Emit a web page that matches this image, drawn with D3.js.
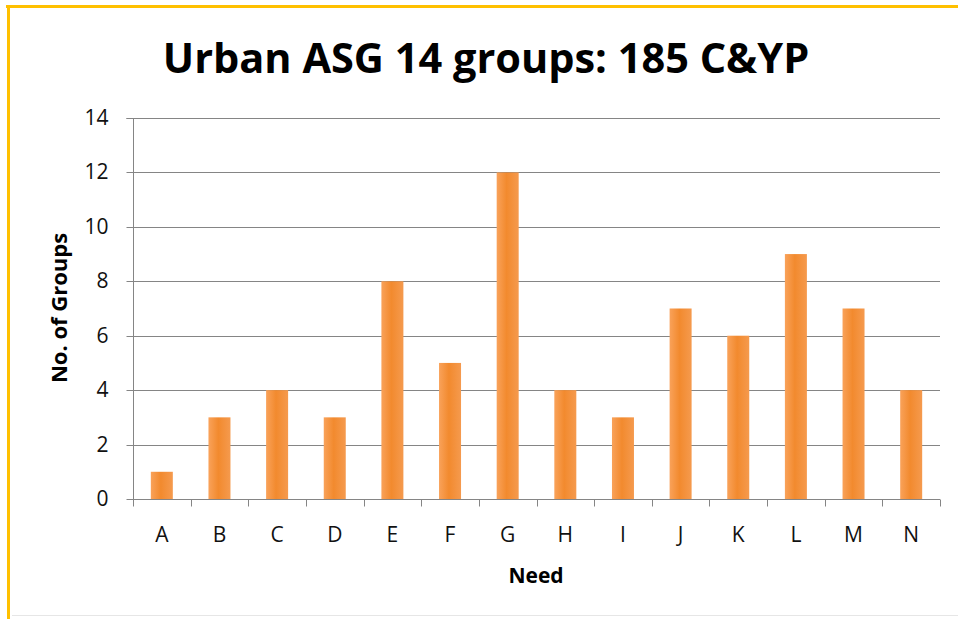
<!DOCTYPE html>
<html><head><meta charset="utf-8">
<script src="https://cdn.jsdelivr.net/npm/d3@7"></script>
<style>body{margin:0;background:#fff;} svg{display:block;}</style>
</head><body>
<script>
const categories = ["A","B","C","D","E","F","G","H","I","J","K","L","M","N"];
const values = [1,3,4,3,8,5,12,4,3,7,6,9,7,4];
const yTicks = [0,2,4,6,8,10,12,14];
const title = "Urban ASG 14 groups: 185 C&YP";
const xLabel = "Need";
const yLabel = "No. of Groups";

(function(){
const W = 958, H = 619;
const svg = d3.select("body").append("svg").attr("width", W).attr("height", H);
svg.append("rect").attr("width", W).attr("height", H).attr("fill", "#fff");

// frame
svg.append("line").attr("x1", 6).attr("x2", W).attr("y1", 6.5).attr("y2", 6.5).attr("stroke", "#FFC000").attr("stroke-width", 3);
svg.append("line").attr("x1", 8.5).attr("x2", 8.5).attr("y1", 5).attr("y2", H).attr("stroke", "#FFC000").attr("stroke-width", 3);
svg.append("line").attr("x1", 12).attr("x2", W).attr("y1", 615.5).attr("y2", 615.5).attr("stroke", "#e6e6e6").attr("stroke-width", 1);

const pl = 133, pr = 940, pt = 118, pb = 499;
const x = d3.scaleBand().domain(categories).range([pl, pr]).paddingInner(0).paddingOuter(0);
const y = d3.scaleLinear().domain([0, 14]).range([pb, pt]);

const defs = svg.append("defs");
const grad = defs.append("linearGradient").attr("id", "bg").attr("x1", "0").attr("x2", "1").attr("y1", "0").attr("y2", "0");
grad.append("stop").attr("offset", "0%").attr("stop-color", "#F9A25A");
grad.append("stop").attr("offset", "45%").attr("stop-color", "#F28A2E");
grad.append("stop").attr("offset", "100%").attr("stop-color", "#F59A4E");

// gridlines
svg.append("g").selectAll("line").data(yTicks.filter(d => d > 0)).join("line")
  .attr("x1", pl).attr("x2", pr)
  .attr("y1", d => Math.round(y(d)) + 0.5).attr("y2", d => Math.round(y(d)) + 0.5)
  .attr("stroke", "#858585").attr("stroke-width", 1);

// bars
const bw = 22;
svg.append("g").selectAll("rect").data(values).join("rect")
  .attr("x", (d, i) => x(categories[i]) + x.bandwidth() / 2 - bw / 2)
  .attr("y", d => y(d))
  .attr("width", bw)
  .attr("height", d => y(0) - y(d))
  .attr("fill", "url(#bg)");

// y axis
const yAxis = svg.append("g").attr("transform", `translate(${pl + 0.5},0)`)
  .call(d3.axisLeft(y).tickValues(yTicks).tickSize(7).tickPadding(18));
yAxis.select(".domain").attr("stroke", "#858585").attr("d", `M-7,${Math.round(y(14))+0.5}H0V${pb}`);
yAxis.selectAll(".tick line").attr("stroke", "#858585");
yAxis.selectAll(".tick text").attr("font-family", "Open Sans, sans-serif").attr("font-size", 21).attr("fill", "#111");
yAxis.selectAll(".tick").attr("transform", d => `translate(0,${Math.round(y(d)) + 0.5})`);

// x axis
const xa = svg.append("g").attr("transform", `translate(0,${pb + 0.5})`);
xa.append("line").attr("x1", pl).attr("x2", pr).attr("stroke", "#858585");
const bounds = categories.map(c => x(c)).concat([pr]);
xa.selectAll("line.tk").data(bounds).join("line").attr("class", "tk")
  .attr("x1", d => Math.round(d) + 0.5).attr("x2", d => Math.round(d) + 0.5)
  .attr("y1", 0).attr("y2", 7).attr("stroke", "#858585");
xa.selectAll("text").data(categories).join("text")
  .attr("x", d => x(d) + x.bandwidth() / 2).attr("y", 42.5)
  .attr("text-anchor", "middle")
  .attr("font-family", "Open Sans, sans-serif").attr("font-size", 21).attr("fill", "#111")
  .text(d => d);

// title
svg.append("text").attr("x", 486).attr("y", 73).attr("text-anchor", "middle")
  .attr("font-family", "Open Sans, sans-serif").attr("font-weight", "bold").attr("font-size", 41.5)
  .attr("fill", "#000").text(title);

// axis labels
svg.append("text").attr("x", 536).attr("y", 583).attr("text-anchor", "middle")
  .attr("font-family", "Open Sans, sans-serif").attr("font-weight", "bold").attr("font-size", 21)
  .attr("fill", "#000").text(xLabel);
svg.append("text").attr("transform", "translate(67,308) rotate(-90)").attr("text-anchor", "middle")
  .attr("font-family", "Open Sans, sans-serif").attr("font-weight", "bold").attr("font-size", 22)
  .attr("fill", "#000").text(yLabel);
})();
</script>
</body></html>
